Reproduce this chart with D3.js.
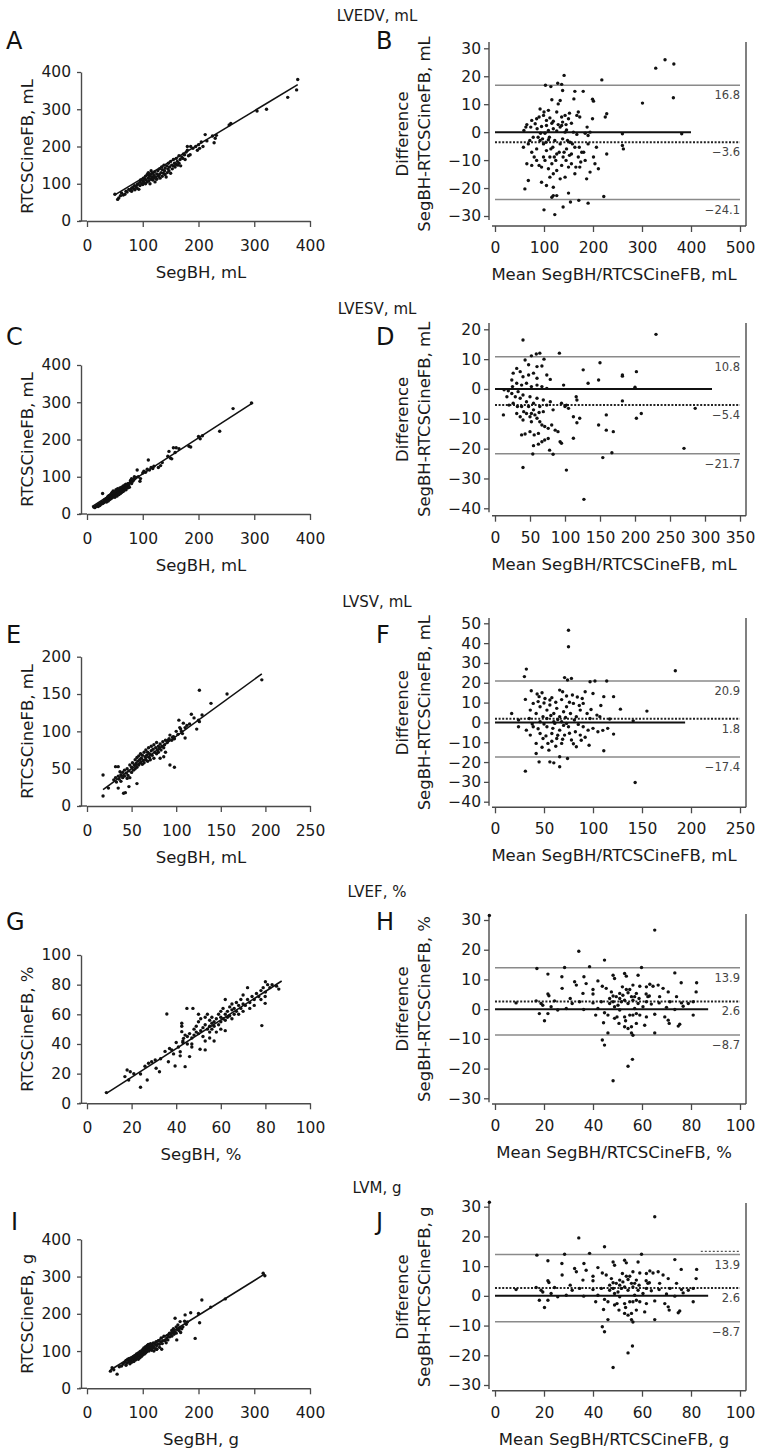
<!DOCTYPE html>
<html><head><meta charset="utf-8">
<script src="https://cdn.jsdelivr.net/npm/d3@7"></script>
<style>body{margin:0;background:#fff}</style>
</head><body><svg id="c" width="770" height="1452"></svg>
<script>
// ---------------- DATA ----------------
const titles = ["LVEDV, mL","LVESV, mL","LVSV, mL","LVEF, %","LVM, g"];
const units = ["mL","mL","mL","%","g"];
const leftLetters = ["A","C","E","G","I"];
const rightLetters = ["B","D","F","H","J"];

const scatterXDomains = [[0,400],[0,400],[0,250],[0,100],[0,400]];
const scatterXTicks = [[0,100,200,300,400],[0,100,200,300,400],[0,50,100,150,200,250],[0,20,40,60,80,100],[0,100,200,300,400]];
const scatterYDomains = [[0,400],[0,400],[0,200],[0,100],[0,400]];
const scatterYTicks = [[0,100,200,300,400],[0,100,200,300,400],[0,50,100,150,200],[0,20,40,60,80,100],[0,100,200,300,400]];

const baXDomains = [[0,500],[0,350],[0,250],[0,100],[0,100]];
const baXTicks = [[0,100,200,300,400,500],[0,50,100,150,200,250,300,350],[0,50,100,150,200,250],[0,20,40,60,80,100],[0,20,40,60,80,100]];
const baYDomains = [[-30,30],[-40,20],[-40,50],[-30,30],[-30,30]];
const baYTicks = [[-30,-20,-10,0,10,20,30],[-40,-30,-20,-10,0,10,20],[-40,-30,-20,-10,0,10,20,30,40,50],[-30,-20,-10,0,10,20,30],[-30,-20,-10,0,10,20,30]];

// limits of agreement: upper, mean bias, lower
const loaValues = [[16.8,-3.6,-24.1],[10.8,-5.4,-21.7],[20.9,1.8,-17.4],[13.9,2.6,-8.7],[13.9,2.6,-8.7]];
// end of the zero reference line (x value)
const zeroLineEnds = [400,310,194,87,87];

// regression line endpoints (x0,y0,x1,y1)
const regA = [50,70,378,366];
const regC = [9,20,298,299];
const regE = [18,22,196,177];
const regG = [8.7,6.7,87.3,82.5];
const regI = [42,49,319,307];

const ptsA = [[50,72],[55,58],[57,62],[60,68],[62,75],[65,70],[68,72],[70,80],[72,78],[75,85],[78,82],[80,88],[80,80],[82,90],[84,86],[85,95],[86,84],[88,92],[90,98],[90,88],[92,100],[93,85],[95,105],[95,95],[96,110],[98,100],[100,108],[100,98],[101,115],[102,104],[104,112],[105,100],[105,120],[106,110],[108,125],[108,105],[110,115],[110,130],[111,108],[112,120],[113,100],[114,125],[115,112],[115,135],[116,118],[118,128],[118,110],[120,122],[120,115],[121,132],[122,105],[123,118],[125,126],[125,112],[127,135],[128,120],[130,140],[130,125],[131,115],[133,130],[134,145],[135,120],[135,138],[137,128],[138,150],[139,135],[140,142],[140,125],[142,118],[143,148],[144,130],[145,140],[146,155],[147,135],[148,145],[150,160],[150,128],[152,150],[153,140],[155,165],[155,148],[157,155],[158,145],[160,168],[160,152],[162,160],[163,150],[165,175],[165,155],[167,165],[168,148],[170,172],[172,168],[173,180],[175,178],[176,165],[178,185],[180,200],[180,190],[182,175],[185,178],[186,200],[190,195],[195,200],[198,190],[200,205],[202,195],[205,212],[208,200],[212,232],[215,215],[225,228],[228,210],[230,222],[232,230],[255,258],[258,262],[305,295],[322,300],[360,332],[376,352],[378,380]];

const ptsB = [[141,20.3],[103,16.8],[114,16.3],[128,17.5],[136,17.1],[138,14.9],[163,14.6],[180,14.6],[161,11.9],[199,11.8],[201,11.1],[218,18.7],[301,10.4],[328,22.9],[347,25.9],[365,24.4],[364,12.3],[133,11.3],[116,11.6],[92,8.3],[100,7.2],[109,7.8],[126,7.2],[129,10.1],[85,4.8],[75,4.2],[65,2.7],[63,1.8],[59,0.6],[73,1.8],[82,3.0],[90,5.4],[99,6.0],[105,4.2],[112,5.1],[119,3.9],[136,5.4],[143,6.0],[150,4.8],[156,3.2],[167,6.0],[173,5.4],[188,1.8],[194,0],[199,4.8],[228,6.6],[225,5.4],[86,1.2],[95,2.0],[102,-0.4],[109,0.6],[119,1.2],[126,0.4],[133,1.8],[146,0.8],[167,-0.8],[184,-0.4],[190,-1.2],[260,-0.6],[381,-0.6],
[58,-5.4],[68,-4.2],[75,-7.2],[85,-6.0],[92,-3.0],[99,-4.2],[105,-6.6],[112,-8.9],[118,-5.4],[122,-3.0],[126,-7.8],[133,-4.2],[139,-8.9],[146,-6.0],[153,-3.6],[156,-7.8],[163,-5.4],[170,-8.9],[177,-7.2],[184,-10.1],[190,-4.2],[201,-8.9],[207,-5.4],[228,-7.8],[260,-4.8],[262,-6.0],[65,-11.3],[75,-11.9],[85,-10.1],[95,-12.5],[102,-10.1],[109,-13.1],[116,-11.3],[119,-14.9],[126,-13.7],[136,-11.9],[143,-16.1],[150,-12.5],[156,-11.3],[163,-14.9],[173,-12.5],[187,-16.7],[194,-14.3],[204,-11.3],[211,-13.1],[68,-17.3],[61,-20.3],[95,-17.9],[105,-19.1],[112,-16.1],[119,-19.7],[119,-22.7],[116,-23.3],[126,-22.7],[133,-16.7],[150,-21.8],[154,-25.0],[171,-24.4],[190,-25.4],[222,-23.0],[139,-26.8],[100,-27.8],[122,-29.5],
[88,-1.8],[97,-2.4],[104,-3.6],[111,-1.8],[114,-6.0],[121,-8.9],[124,-10.1],[131,-7.2],[138,-2.4],[141,-7.2],[145,-10.1],[148,-3.0],[152,-8.3],[158,-4.2],[165,-12.5],[172,-5.4],[175,-10.7],[181,-7.2],[105,2.4],[116,3.2],[129,2.7],[138,3.6],[145,2.7],[152,6.8],[170,7.2],[93,-0.4],[109,-2.7],[78,-1.8],[71,-3.0],[80,-8.9],[90,-11.9],[99,-8.9],[136,2.4],[143,0],[160,0]];

const ptsC = [[12,19],[14,17],[16,20],[18,22],[20,24],[20,20],[22,27],[23,23],[25,30],[25,26],[27,32],[28,28],[28,55],[30,34],[30,30],[31,38],[32,33],[33,40],[34,36],[35,42],[35,32],[36,39],[37,45],[38,35],[38,48],[39,42],[40,50],[40,38],[41,45],[42,52],[42,40],[43,48],[44,55],[44,42],[45,50],[45,58],[46,45],[47,53],[47,62],[48,48],[48,57],[49,51],[50,60],[50,45],[51,55],[52,65],[52,50],[53,58],[54,62],[54,48],[55,55],[55,68],[56,60],[57,52],[57,65],[58,58],[59,70],[60,62],[60,55],[61,66],[62,58],[62,72],[63,64],[64,60],[65,68],[65,75],[66,62],[67,70],[68,66],[68,78],[69,72],[70,65],[70,80],[72,75],[73,70],[74,82],[75,78],[76,72],[78,85],[78,90],[80,82],[80,95],[82,88],[84,92],[85,100],[86,95],[88,98],[90,118],[92,100],[95,88],[96,95],[100,110],[102,115],[105,112],[108,120],[110,145],[112,118],[115,125],[118,122],[120,128],[128,125],[132,130],[135,138],[145,155],[147,168],[150,150],[152,148],[155,178],[158,165],[160,178],[165,175],[183,182],[186,180],[200,208],[203,202],[207,210],[238,222],[262,283],[295,298]];

const ptsD = [[40,16.4],[52,11.1],[59,11.7],[64,12],[70,10],[92,12],[43,9.7],[48,8.1],[60,7.5],[67,7.7],[26,5.3],[31,6.9],[36,5.8],[40,4.1],[48,4.7],[55,5.3],[60,3.6],[74,4.7],[79,3.2],[24,3.0],[31,1.9],[38,1.3],[45,1.9],[52,0.8],[60,1.3],[67,0.8],[74,0.2],[98,1.3],[126,6.4],[133,1.9],[150,8.8],[148,3.0],[182,4.7],[182,4.3],[202,5.8],[200,0.6],[230,18.3],
[12,-8.7],[19,-0.6],[24,-1.5],[29,-2.6],[33,-0.9],[36,-3.1],[40,-2.0],[45,-4.3],[50,-2.6],[55,-4.8],[60,-3.1],[64,-5.9],[69,-3.7],[74,-5.4],[79,-4.3],[83,-7.0],[95,-4.8],[100,-5.9],[102,-5.4],[105,-6.5],[117,-3.7],[116,-2.6],[112,-9.3],[121,-9.8],[117,-11.3],[31,-8.2],[36,-9.3],[40,-10.4],[45,-8.2],[50,-9.3],[52,-11],[55,-7.0],[60,-9.8],[64,-11],[67,-12.1],[71,-12.6],[76,-13.2],[81,-12.1],[86,-13.8],[43,-15.1],[38,-15.4],[50,-14.3],[56,-15.4],[62,-14.9],[67,-17.7],[71,-17.1],[76,-16.6],[90,-14.3],[93,-17.7],[95,-18.2],[55,-19.0],[62,-18.5],[78,-20.5],[83,-21.9],[54,-21.8],[40,-26.3],[112,-16.5],[102,-27.2],[127,-37],[148,-12.1],[159,-13.8],[169,-14.3],[159,-8.7],[182,-4.0],[202,-9.8],[209,-8.2],[167,-21.4],[154,-23],[270,-19.9],[286,-6.5],[26,-4.8],[32,-5.9],[38,-5.9],[41,-7.6],[48,-5.9],[52,-8.2],[57,-8.7],[63,-7.9],[69,-7.6],[20,-5.4],[17,-2.6],[25,0.8],[13,-0.3]];

const ptsE = [[18,41.5],[18,13.4],[43,17.9],[41,17],[32,52.7],[35,52.7],[37,46],[126,155],[157,150],[139,137.5],[196,169],[117,123],[129,122],[123,103],[126,113],[93,55],[98,52],[103,115],[108,111],[110,91],[105,103],[107,97],[97,93],[91,88],[82,64],[86,66],[56,30],[47,26],[45,37],[35,24],[24,24],
[30,35],[32,38],[33,32],[35,40],[36,36],[38,42],[38,33],[40,45],[40,38],[42,40],[42,48],[44,44],[45,50],[46,41],[47,47],[48,55],[48,38],[50,52],[50,45],[51,58],[52,48],[53,55],[54,62],[54,50],[55,57],[56,65],[56,52],[57,60],[58,55],[58,67],[59,62],[60,58],[60,70],[61,64],[62,56],[62,68],[63,61],[64,72],[64,58],[65,66],[66,62],[66,75],[67,68],[68,60],[68,72],[69,78],[70,65],[70,70],[71,62],[72,74],[72,80],[73,68],[74,76],[75,64],[75,82],[76,72],[77,78],[78,70],[78,85],[79,75],[80,80],[80,72],[81,77],[82,83],[83,75],[84,80],[85,86],[86,78],[87,82],[88,72],[88,88],[90,85],[92,90],[93,95],[95,88],[96,92],[98,90],[100,100],[102,96],[104,105],[106,100],[110,105],[112,108],[115,110],[120,118],[125,115]];

const ptsF = [[75,46.5],[75,38.2],[32,26.9],[184,26.1],[30,23.1],[71,22.6],[74,21.4],[78,22.2],[97,20.5],[102,20.9],[114,20.9],[31,11.6],[37,16],[43,14.3],[45,13],[48,15],[51,12.1],[56,11.3],[66,16.3],[69,15.5],[73,13.3],[79,13.8],[89,12.1],[92,15.5],[100,14.6],[111,13],[121,13],[128,6.7],[155,5.7],[17,4.5],[24,1.2],[36,6.2],[39,9.6],[42,4.5],[46,7.9],[49,2.9],[53,6.2],[56,8.8],[60,4.5],[63,7.1],[66,2.9],[70,5.4],[73,7.9],[77,4.5],[80,9.6],[83,2.9],[87,6.2],[90,9.6],[94,4.5],[97,2.0],[104,3.7],[107,2.9],[117,1.7],[141,0.8],
[32,-3.9],[36,-6.4],[39,-2.2],[42,-10.6],[46,-5.6],[49,-8.1],[53,-2.2],[54,-10.6],[58,-5.6],[61,-0.5],[63,-8.1],[66,-3.9],[68,-10.6],[71,-6.4],[75,-2.2],[78,-8.9],[82,-4.7],[83,-12.3],[87,-6.4],[90,-2.2],[95,-3.9],[100,-3.0],[105,-4.7],[121,-5.9],[111,-14.3],[42,-15.7],[45,-19.9],[56,-19.9],[60,-20.4],[66,-17.3],[66,-22.4],[74,-18.2],[31,-24.6],[143,-30.3],[24,-2.2],[60,0.3],[46,0.3],[68,0.3],[73,-0.5],[53,2],
[44,10.5],[50,9.8],[58,12.5],[62,10.2],[68,11.5],[76,10.2],[84,12.8],[86,8.5],[57,3.5],[64,1.5],[70,-1.5],[72,2.5],[81,1.2],[85,-1.0],[59,-3.0],[64,-6.5],[69,-8.5],[76,-5.5],[80,-10.8],[88,-9.0],[92,-7.5],[48,-12.5],[55,-14.0],[62,-12.0],[52,-6.8],[58,-9.5],[38,-0.8],[44,-3.2],[50,-0.8],[96,-11.5],[110,-4.0],[115,-3.0],[98,6.5],[108,8.5],[35,2.0]];

const ptsG = [[8.7,7.2],[18,22.5],[19.4,21.3],[18.7,15.7],[17,18],[21,20],[24,19.8],[24,10.8],[27,15.7],[31,23.6],[32.5,21.3],[30.6,29.2],[27.6,27],[26,25],[29,28],[33,30],[35.8,60.2],[36.5,28],[38.8,33.3],[39.5,25.2],[41.8,32],[41.8,34.8],[44,24.7],[42.5,54],[42.5,52],[42.5,48.3],[43.3,43.8],[44.8,64],[47.5,64],[46,31.5],[50.7,36.4],[78.4,52.4],[79.9,67.4],[79.9,72],[35,35],[37,37],[38,36],[40,41],[41,38],[43,42],[45,45],[45,40],[46,47],[47,44],[47,38],[48,46],[48,50],[49,48],[49,52],[50,47],[50,55],[50,60],[51,49],[51,57],[52,51],[52,45],[53,53],[53,58],[53,42],[54,50],[54,60],[55,52],[55,48],[55,56],[56,54],[56,58],[56,50],[57,55],[57,52],[58,57],[58,48],[59,60],[59,53],[60,58],[60,62],[60,55],[61,64],[61,57],[62,60],[62,70],[62,56],[63,62],[63,58],[64,59],[64,65],[65,63],[65,57],[65,67],[66,60],[66,64],[67,62],[67,68],[68,66],[68,60],[69,70],[69,64],[70,67],[70,73],[70,62],[71,66],[72,70],[72,78],[73,68],[73,64],[74,72],[75,70],[75,66],[76,74],[77,72],[78,76],[78,70],[79,78],[80,82],[80,75],[81,80],[82,78],[83,80],[85,79],[86,77],[57,42],[53,36],[47,40],[60,50],[62,49],[55,44],[44,46],[43,41]];

const ptsH = [[-2.3,31.5],[65.2,26.6],[34.2,19.5],[44.7,16.5],[17.1,13.7],[28.4,14],[38.6,14.3],[59.8,14],[21.6,11.8],[27.3,10.9],[36.3,10.9],[48.2,11.4],[48.8,10.3],[52.9,12],[53.6,11.1],[58.4,11.4],[73.4,12.2],[76,8.9],[82.3,8.9],[32.5,9.2],[33.2,8.1],[37.2,8.6],[42,9.5],[27.4,7.0],[40,6.6],[43.8,7.7],[45.4,7.0],[47.5,5.8],[50.9,5.3],[55,6.6],[59.1,7.7],[61.8,7.5],[63.2,8.4],[64.5,7.7],[66.6,8.1],[68.6,7.0],[70.7,5.8],[74.1,4.2],[82.1,5.8],[21.6,5.1],[22,4.5],[35.9,5.3],[40,5.1],[48.2,4.4],[49.5,4.2],[52.2,4.7],[54.3,5.5],[55.7,4.2],[61.7,5.1],[63,4.4],[67.2,4.2],[8.6,2.1],[16.8,2.8],[18.8,1.9],[24.3,2.8],[30.7,3.6],[31.5,1.9],[34.5,2.5],[40,2.1],[43.4,2.5],[46.8,1.9],[51.6,2.5],[56.3,3.0],[58.4,1.9],[61.8,2.5],[63.8,1.7],[67,2.1],[71.4,2.5],[76.1,2.1],[78.9,1.9],[80.9,2.5],[19.5,1.3],[22.9,0.8],[25.6,-0.3],[29.1,0.2],[36.2,-0.1],[42,0.2],[48.8,0.8],[50.9,-0.3],[57,0.2],[60.4,0.8],[70,0.6],[73.4,-0.1],[76.8,1],[18.1,-1.5],[21.6,-1.5],[20.2,-3.9],[41.1,-2.0],[44.7,-1.2],[46.1,-2.0],[48.8,-3.1],[49.8,-2.6],[52.9,-2.6],[55,-2.0],[57.7,-1.5],[59.1,-2.0],[61.8,-2.6],[65.2,-1.7],[69.3,-2.6],[70.7,-3.7],[80.9,-2.0],[44.3,-4.6],[52.9,-5.9],[54.3,-6.5],[55.7,-5.9],[57.7,-4.8],[61.1,-5.4],[71.1,-4.8],[74.8,-5.7],[75.4,-5.1],[46.1,-8.0],[55.7,-8.0],[56.3,-8.8],[65.2,-8.0],[43.8,-10.4],[44.7,-12.1],[56.1,-16.9],[54.3,-19.2],[48.2,-24.1],
[50.9,3.6],[52.9,3.0],[54.3,1.9],[50.2,1.3],[57,4.2],[58.8,3.6],[48.2,2.5],[46.8,3.6],[52,7.5],[53.6,6.6],[56.3,8.1],[57.7,5.3],[62.4,4.2],[56.3,-2.0],[53.3,-3.9],[50.6,-4.8]];

const ptsI = [[42,46],[45,55],[48,50],[54,38],[58,58],[62,60],[65,65],[68,70],[70,62],[70,75],[72,68],[73,78],[75,72],[76,80],[77,66],[78,75],[80,82],[80,70],[82,78],[83,85],[84,72],[85,80],[86,88],[87,76],[88,84],[89,92],[90,80],[90,88],[92,95],[92,78],[93,86],[94,90],[95,98],[95,82],[96,92],[97,100],[98,86],[99,95],[100,104],[100,90],[101,98],[102,108],[103,92],[104,100],[105,112],[105,95],[106,104],[107,98],[108,115],[108,102],[110,108],[110,118],[111,100],[112,112],[113,105],[114,120],[115,110],[116,102],[117,115],[118,108],[119,122],[120,112],[122,118],[123,106],[124,125],[125,115],[125,105],[127,120],[128,128],[130,118],[130,110],[132,125],[133,135],[135,120],[136,128],[138,140],[140,130],[142,122],[143,135],[145,142],[145,130],[148,148],[148,138],[150,145],[152,155],[152,140],[154,150],[155,160],[156,145],[158,152],[158,188],[160,165],[160,148],[161,130],[162,158],[163,170],[165,155],[166,162],[167,179],[168,150],[170,160],[172,165],[175,180],[176,197],[178,172],[180,178],[186,203],[194,134],[200,201],[202,176],[206,237],[222,218],[248,240],[316,309],[319,302],[125,105],[134,105],[140,128],[120,100]];

// Panel J shows the same points as panel H in the source figure
const ptsJ = ptsH;
const extraJ = [84,100,15]; // short dashed segment in J (x0, x1, y)

// ---------------- LAYOUT ----------------
const FONT = '"DejaVu Sans", Verdana, sans-serif';
const INK = "#1a1a1a";
const AXIS = "#4a4a4a";
const TICK_FS = 15.5, LABEL_FS = 16.5, TITLE_FS = 15, LOA_FS = 11.5, LETTER_FS = 24;
const svg = d3.select("#c");

const titleY = [21,314,607,897,1193];
const letterY = [49,345,643,930,1230];
const leftLay = [{top:72,bot:221},{top:365,bot:514},{top:656.7,bot:806},{top:955,bot:1103.3},{top:1239.3,bot:1388.3}];
const rightLay = [
  {yMax:48.3,yMin:216,top:42,axis:226},
  {yMax:329.3,yMin:508.3,top:323,axis:515.7},
  {yMax:623.3,yMin:801.7,top:618,axis:807.3},
  {yMax:920,yMin:1098.3,top:914,axis:1104},
  {yMax:1206.7,yMin:1385,top:1203,axis:1390.7}
];
const LX0 = 87, LX1 = 310, LYAX = 81;
const RX0 = 495, RX1 = 740, RYAX = 489, RBORDER = 746;

const fmt = d3.format("d");
const fmt1 = d3.format(".1f");

function text(x, y, s, size, anchor, fill) {
  return svg.append("text").attr("x", x).attr("y", y).text(s)
    .attr("font-family", FONT).attr("font-size", size)
    .attr("text-anchor", anchor || "start").attr("fill", fill || INK);
}
function hline(x1, x2, y, color, w, dash) {
  const l = svg.append("line").attr("x1", x1).attr("x2", x2).attr("y1", y).attr("y2", y)
    .attr("stroke", color).attr("stroke-width", w);
  if (dash) l.attr("stroke-dasharray", dash);
  return l;
}
function vline(x, y1, y2, color, w) {
  return svg.append("line").attr("x1", x).attr("x2", x).attr("y1", y1).attr("y2", y2)
    .attr("stroke", color).attr("stroke-width", w);
}
function styleAxis(g, size) {
  g.attr("font-family", FONT).attr("font-size", size);
  g.selectAll(".tick line").attr("stroke", AXIS).attr("stroke-width", 1.3);
  g.selectAll(".tick text").attr("fill", INK);
  g.select(".domain").attr("stroke", AXIS).attr("stroke-width", 1.4);
}

function drawScatter(i, pts, reg) {
  const L = leftLay[i];
  const x = d3.scaleLinear().domain(scatterXDomains[i]).range([LX0, LX1]);
  const y = d3.scaleLinear().domain(scatterYDomains[i]).range([L.bot, L.top]);
  const ya = svg.append("g").attr("transform", `translate(${LYAX},0)`)
    .call(d3.axisLeft(y).tickValues(scatterYTicks[i]).tickSize(4).tickPadding(6).tickSizeOuter(0).tickFormat(fmt));
  styleAxis(ya, TICK_FS);
  const xa = svg.append("g").attr("transform", `translate(0,${L.bot})`)
    .call(d3.axisBottom(x).tickValues(scatterXTicks[i]).tickSize(6).tickSizeOuter(0).tickFormat(fmt));
  styleAxis(xa, TICK_FS);
  xa.selectAll(".tick text").attr("y", 30).attr("dy", 0);
  hline(LYAX - 2, LX0, L.bot, AXIS, 1.4);
  // labels
  text(201, L.bot + 57, "SegBH, " + units[i], LABEL_FS, "middle");
  svg.append("text").attr("transform", `translate(33,${(L.top + L.bot) / 2}) rotate(-90)`)
    .attr("text-anchor", "middle").attr("font-family", FONT).attr("font-size", LABEL_FS).attr("fill", INK)
    .text("RTCSCineFB, " + units[i]);
  // points
  svg.append("g").selectAll("circle").data(pts).join("circle")
    .attr("cx", d => x(d[0])).attr("cy", d => y(d[1])).attr("r", 1.7).attr("fill", "#111");
  // regression line
  svg.append("line").attr("x1", x(reg[0])).attr("y1", y(reg[1])).attr("x2", x(reg[2])).attr("y2", y(reg[3]))
    .attr("stroke", "#111").attr("stroke-width", 1.6);
}

function drawBA(i, pts) {
  const R = rightLay[i];
  const dom = baXDomains[i];
  const x = d3.scaleLinear().domain(dom).range([RX0, RX1]);
  const y = d3.scaleLinear().domain(baYDomains[i]).range([R.yMin, R.yMax]);
  const ya = svg.append("g").attr("transform", `translate(${RYAX},0)`)
    .call(d3.axisLeft(y).tickValues(baYTicks[i]).tickSize(5).tickPadding(3).tickSizeOuter(0).tickFormat(fmt));
  styleAxis(ya, TICK_FS);
  ya.select(".domain").remove();
  vline(RYAX, R.top, R.yMin + 4, AXIS, 1.4);
  const xa = svg.append("g").attr("transform", `translate(0,${R.axis})`)
    .call(d3.axisBottom(x).tickValues(baXTicks[i]).tickSize(6).tickSizeOuter(0).tickFormat(fmt));
  styleAxis(xa, TICK_FS);
  xa.select(".domain").remove();
  xa.selectAll(".tick text").attr("y", 27).attr("dy", 0);
  hline(RX0 - 3, RBORDER, R.axis, AXIS, 1.4);
  vline(RBORDER, R.top, R.axis, AXIS, 1.4);

  const loa = loaValues[i];
  // limits of agreement
  hline(x(dom[0]), x(dom[1]), y(loa[0]), "#8a8a8a", 1.5);
  hline(x(dom[0]), x(dom[1]), y(loa[2]), "#8a8a8a", 1.5);
  // zero line
  hline(x(0), x(zeroLineEnds[i]), y(0), "#111", 2);
  // mean bias (dotted)
  hline(x(dom[0]), x(dom[1]), y(loa[1]), "#222", 2, "2,1.6");
  loa.forEach(v => {
    text(RX1, y(v) + 14, fmt1(v).replace("-", "\u2212"), LOA_FS, "end", "#444");
  });

  // labels
  text(614, R.axis + 54, "Mean SegBH/RTCSCineFB, " + units[i], LABEL_FS, "middle");
  const cy = (R.top + R.axis) / 2;
  svg.append("text").attr("transform", `translate(408,${cy}) rotate(-90)`)
    .attr("text-anchor", "middle").attr("font-family", FONT).attr("font-size", LABEL_FS).attr("fill", INK)
    .text("Difference");
  svg.append("text").attr("transform", `translate(430,${cy}) rotate(-90)`)
    .attr("text-anchor", "middle").attr("font-family", FONT).attr("font-size", LABEL_FS).attr("fill", INK)
    .text("SegBH-RTCSCineFB, " + units[i]);

  svg.append("g").selectAll("circle").data(pts).join("circle")
    .attr("cx", d => x(d[0])).attr("cy", d => y(d[1])).attr("r", 1.7).attr("fill", "#111");
  return {x, y};
}

// ---------------- DRAW ----------------
const scatterPts = [ptsA, ptsC, ptsE, ptsG, ptsI];
const regs = [regA, regC, regE, regG, regI];
const baPts = [ptsB, ptsD, ptsF, ptsH, ptsJ];

for (let i = 0; i < 5; i++) {
  text(377, titleY[i], titles[i], TITLE_FS, "middle");
  text(i === 4 ? 11 : 6, letterY[i], leftLetters[i], LETTER_FS, "start", "#111");
  text(376, letterY[i], rightLetters[i], LETTER_FS, "start", "#111");
  drawScatter(i, scatterPts[i], regs[i]);
  const s = drawBA(i, baPts[i]);
  if (i === 4) {
    hline(s.x(extraJ[0]), s.x(extraJ[1]), s.y(extraJ[2]), "#555", 1.3, "2,2");
  }
}
</script>
</body></html>
